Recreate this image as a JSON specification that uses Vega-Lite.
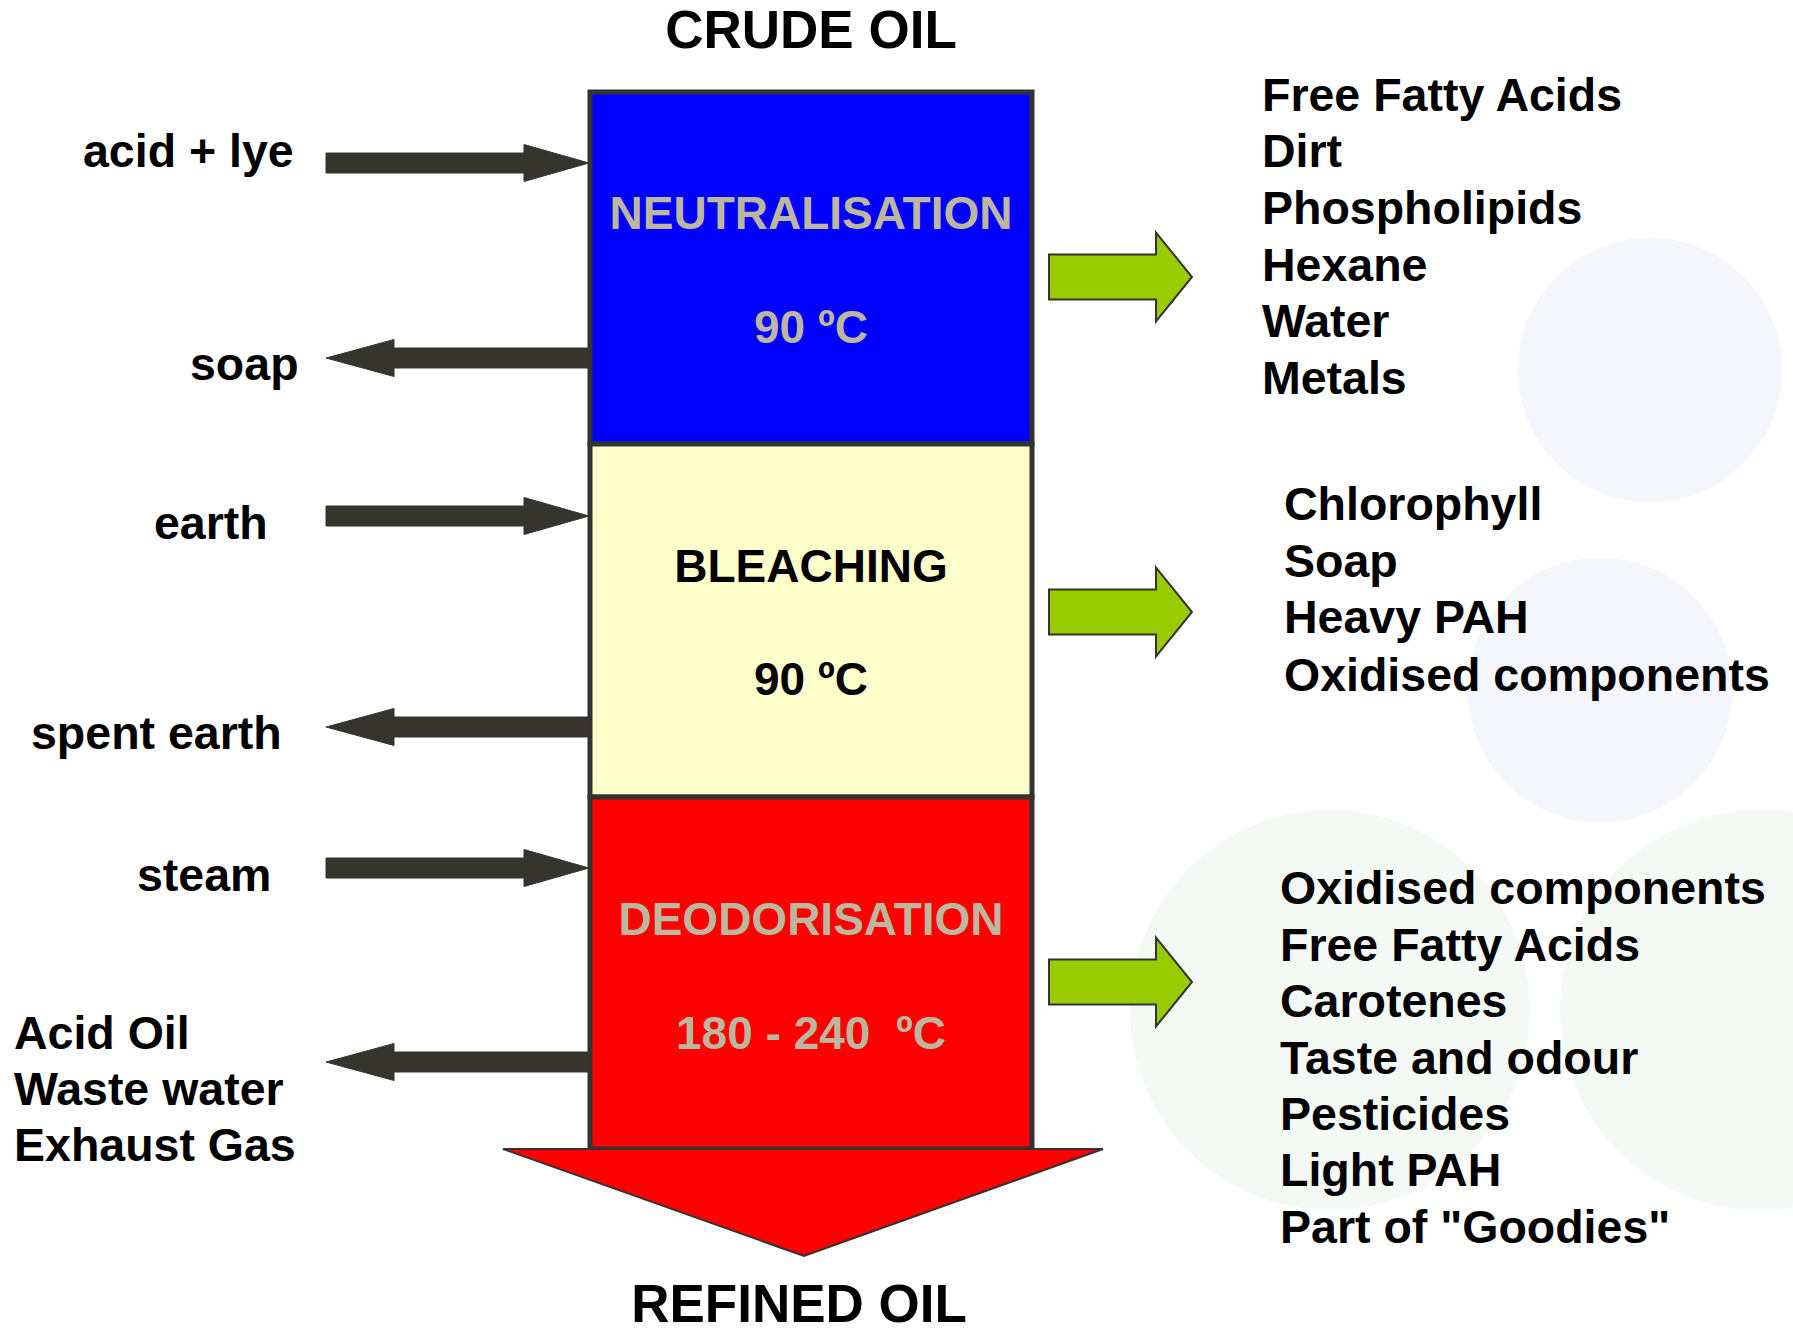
{
  "$schema": "https://vega.github.io/schema/vega-lite/v6.json",
  "width": 1793,
  "height": 1336,
  "autosize": {"type": "none"},
  "padding": 0,
  "background": "#ffffff",
  "config": {"view": {"stroke": null}, "text": {"font": "Liberation Sans", "fontWeight": "bold"}},
  "datasets": {
    "watermarkBlue": [{"x": 1650, "y": 370}, {"x": 1600, "y": 690}],
    "watermarkGreen": [{"x": 1330, "y": 1010}, {"x": 1760, "y": 1010}],
    "boxes": [
      {"stage": "NEUTRALISATION", "x": 590, "x2": 1032, "y": 92, "y2": 444},
      {"stage": "BLEACHING", "x": 590, "x2": 1032, "y": 444, "y2": 797},
      {"stage": "DEODORISATION", "x": 590, "x2": 1032, "y": 797, "y2": 1149}
    ],
    "outlet": [
      {"id": "out", "i": 1, "x": 503, "y": 1149},
      {"id": "out", "i": 2, "x": 1103, "y": 1149},
      {"id": "out", "i": 3, "x": 804, "y": 1256}
    ],
    "darkArrows": [
      {"id": "in1", "i": 1, "x": 326, "y": 153}, {"id": "in1", "i": 2, "x": 524, "y": 153}, {"id": "in1", "i": 3, "x": 524, "y": 144.5}, {"id": "in1", "i": 4, "x": 589, "y": 163}, {"id": "in1", "i": 5, "x": 524, "y": 181.5}, {"id": "in1", "i": 6, "x": 524, "y": 173}, {"id": "in1", "i": 7, "x": 326, "y": 173},
      {"id": "out1", "i": 1, "x": 589, "y": 348}, {"id": "out1", "i": 2, "x": 394, "y": 348}, {"id": "out1", "i": 3, "x": 394, "y": 339.5}, {"id": "out1", "i": 4, "x": 326, "y": 358}, {"id": "out1", "i": 5, "x": 394, "y": 376.5}, {"id": "out1", "i": 6, "x": 394, "y": 368}, {"id": "out1", "i": 7, "x": 589, "y": 368},
      {"id": "in2", "i": 1, "x": 326, "y": 506}, {"id": "in2", "i": 2, "x": 524, "y": 506}, {"id": "in2", "i": 3, "x": 524, "y": 497.5}, {"id": "in2", "i": 4, "x": 589, "y": 516}, {"id": "in2", "i": 5, "x": 524, "y": 534.5}, {"id": "in2", "i": 6, "x": 524, "y": 526}, {"id": "in2", "i": 7, "x": 326, "y": 526},
      {"id": "out2", "i": 1, "x": 589, "y": 717}, {"id": "out2", "i": 2, "x": 394, "y": 717}, {"id": "out2", "i": 3, "x": 394, "y": 708.5}, {"id": "out2", "i": 4, "x": 326, "y": 727}, {"id": "out2", "i": 5, "x": 394, "y": 745.5}, {"id": "out2", "i": 6, "x": 394, "y": 737}, {"id": "out2", "i": 7, "x": 589, "y": 737},
      {"id": "in3", "i": 1, "x": 326, "y": 858}, {"id": "in3", "i": 2, "x": 524, "y": 858}, {"id": "in3", "i": 3, "x": 524, "y": 849.5}, {"id": "in3", "i": 4, "x": 589, "y": 868}, {"id": "in3", "i": 5, "x": 524, "y": 886.5}, {"id": "in3", "i": 6, "x": 524, "y": 878}, {"id": "in3", "i": 7, "x": 326, "y": 878},
      {"id": "out3", "i": 1, "x": 589, "y": 1052}, {"id": "out3", "i": 2, "x": 394, "y": 1052}, {"id": "out3", "i": 3, "x": 394, "y": 1043.5}, {"id": "out3", "i": 4, "x": 326, "y": 1062}, {"id": "out3", "i": 5, "x": 394, "y": 1080.5}, {"id": "out3", "i": 6, "x": 394, "y": 1072}, {"id": "out3", "i": 7, "x": 589, "y": 1072}
    ],
    "greenArrows": [
      {"id": "g1", "i": 1, "x": 1049, "y": 254.5}, {"id": "g1", "i": 2, "x": 1156, "y": 254.5}, {"id": "g1", "i": 3, "x": 1156, "y": 232.5}, {"id": "g1", "i": 4, "x": 1192, "y": 277}, {"id": "g1", "i": 5, "x": 1156, "y": 321.5}, {"id": "g1", "i": 6, "x": 1156, "y": 299.5}, {"id": "g1", "i": 7, "x": 1049, "y": 299.5},
      {"id": "g2", "i": 1, "x": 1049, "y": 589.5}, {"id": "g2", "i": 2, "x": 1156, "y": 589.5}, {"id": "g2", "i": 3, "x": 1156, "y": 567.5}, {"id": "g2", "i": 4, "x": 1192, "y": 612}, {"id": "g2", "i": 5, "x": 1156, "y": 656.5}, {"id": "g2", "i": 6, "x": 1156, "y": 634.5}, {"id": "g2", "i": 7, "x": 1049, "y": 634.5},
      {"id": "g3", "i": 1, "x": 1049, "y": 959.5}, {"id": "g3", "i": 2, "x": 1156, "y": 959.5}, {"id": "g3", "i": 3, "x": 1156, "y": 937.5}, {"id": "g3", "i": 4, "x": 1192, "y": 982}, {"id": "g3", "i": 5, "x": 1156, "y": 1026.5}, {"id": "g3", "i": 6, "x": 1156, "y": 1004.5}, {"id": "g3", "i": 7, "x": 1049, "y": 1004.5}
    ],
    "boxText": [
      {"stage": "NEUTRALISATION", "text": "NEUTRALISATION", "x": 811, "y": 215},
      {"stage": "NEUTRALISATION", "text": "90 ºC", "x": 811, "y": 329},
      {"stage": "BLEACHING", "text": "BLEACHING", "x": 811, "y": 568},
      {"stage": "BLEACHING", "text": "90 ºC", "x": 811, "y": 681},
      {"stage": "DEODORISATION", "text": "DEODORISATION", "x": 811, "y": 921},
      {"stage": "DEODORISATION", "text": "180 - 240 \u00a0ºC", "x": 811, "y": 1035}
    ],
    "titles": [
      {"text": "CRUDE OIL", "x": 811, "y": 32},
      {"text": "REFINED OIL", "x": 799, "y": 1306}
    ],
    "labels": [
      {"side": "in", "text": "acid + lye", "x": 83, "y": 153},
      {"side": "out", "text": "soap", "x": 190, "y": 366},
      {"side": "in", "text": "earth", "x": 154, "y": 525},
      {"side": "out", "text": "spent earth", "x": 31, "y": 735},
      {"side": "in", "text": "steam", "x": 137, "y": 877},
      {"side": "out", "text": "Acid Oil", "x": 14, "y": 1035},
      {"side": "out", "text": "Waste water", "x": 14, "y": 1091},
      {"side": "out", "text": "Exhaust Gas", "x": 14, "y": 1147},
      {"side": "removed", "text": "Free Fatty Acids", "x": 1262, "y": 97},
      {"side": "removed", "text": "Dirt", "x": 1262, "y": 153},
      {"side": "removed", "text": "Phospholipids", "x": 1262, "y": 210},
      {"side": "removed", "text": "Hexane", "x": 1262, "y": 267},
      {"side": "removed", "text": "Water", "x": 1262, "y": 323},
      {"side": "removed", "text": "Metals", "x": 1262, "y": 380},
      {"side": "removed", "text": "Chlorophyll", "x": 1284, "y": 506},
      {"side": "removed", "text": "Soap", "x": 1284, "y": 563},
      {"side": "removed", "text": "Heavy PAH", "x": 1284, "y": 619},
      {"side": "removed", "text": "Oxidised components", "x": 1284, "y": 677},
      {"side": "removed", "text": "Oxidised components", "x": 1280, "y": 890},
      {"side": "removed", "text": "Free Fatty Acids", "x": 1280, "y": 947},
      {"side": "removed", "text": "Carotenes", "x": 1280, "y": 1003},
      {"side": "removed", "text": "Taste and odour", "x": 1280, "y": 1060},
      {"side": "removed", "text": "Pesticides", "x": 1280, "y": 1116},
      {"side": "removed", "text": "Light PAH", "x": 1280, "y": 1172},
      {"side": "removed", "text": "Part of \"Goodies\"", "x": 1280, "y": 1229}
    ]
  },
  "layer": [
    {
      "data": {"name": "watermarkBlue"},
      "mark": {"type": "point", "shape": "circle", "filled": true, "size": 70000, "fill": "#F5F6FB", "opacity": 1, "strokeWidth": 0},
      "encoding": {
        "x": {"field": "x", "type": "quantitative", "scale": {"domain": [0, 1793], "nice": false, "zero": false}, "axis": null},
        "y": {"field": "y", "type": "quantitative", "scale": {"domain": [0, 1336], "reverse": true, "nice": false, "zero": false}, "axis": null}
      }
    },
    {
      "data": {"name": "watermarkGreen"},
      "mark": {"type": "point", "shape": "circle", "filled": true, "size": 160000, "fill": "#F5F9F5", "opacity": 1, "strokeWidth": 0},
      "encoding": {
        "x": {"field": "x", "type": "quantitative", "scale": {"domain": [0, 1793], "nice": false, "zero": false}, "axis": null},
        "y": {"field": "y", "type": "quantitative", "scale": {"domain": [0, 1336], "reverse": true, "nice": false, "zero": false}, "axis": null}
      }
    },
    {
      "data": {"name": "boxes"},
      "mark": {"type": "rect", "stroke": "#333333", "strokeWidth": 5},
      "encoding": {
        "x": {"field": "x", "type": "quantitative", "scale": {"domain": [0, 1793], "nice": false, "zero": false}, "axis": null},
        "x2": {"field": "x2"},
        "y": {"field": "y", "type": "quantitative", "scale": {"domain": [0, 1336], "reverse": true, "nice": false, "zero": false}, "axis": null},
        "y2": {"field": "y2"},
        "fill": {"field": "stage", "type": "nominal", "scale": {"domain": ["NEUTRALISATION", "BLEACHING", "DEODORISATION"], "range": ["#0000FF", "#FFFFCC", "#FF0000"]}, "legend": null}
      }
    },
    {
      "data": {"name": "outlet"},
      "mark": {"type": "line", "interpolate": "linear-closed", "fill": "#FF0000", "stroke": "#333333", "strokeWidth": 2},
      "encoding": {
        "x": {"field": "x", "type": "quantitative", "scale": {"domain": [0, 1793], "nice": false, "zero": false}, "axis": null},
        "y": {"field": "y", "type": "quantitative", "scale": {"domain": [0, 1336], "reverse": true, "nice": false, "zero": false}, "axis": null},
        "detail": {"field": "id"},
        "order": {"field": "i", "type": "quantitative"}
      }
    },
    {
      "data": {"name": "darkArrows"},
      "mark": {"type": "line", "interpolate": "linear-closed", "fill": "#35352D", "stroke": "#35352D", "strokeWidth": 1},
      "encoding": {
        "x": {"field": "x", "type": "quantitative", "scale": {"domain": [0, 1793], "nice": false, "zero": false}, "axis": null},
        "y": {"field": "y", "type": "quantitative", "scale": {"domain": [0, 1336], "reverse": true, "nice": false, "zero": false}, "axis": null},
        "detail": {"field": "id"},
        "order": {"field": "i", "type": "quantitative"}
      }
    },
    {
      "data": {"name": "greenArrows"},
      "mark": {"type": "line", "interpolate": "linear-closed", "fill": "#99CC00", "stroke": "#333333", "strokeWidth": 2},
      "encoding": {
        "x": {"field": "x", "type": "quantitative", "scale": {"domain": [0, 1793], "nice": false, "zero": false}, "axis": null},
        "y": {"field": "y", "type": "quantitative", "scale": {"domain": [0, 1336], "reverse": true, "nice": false, "zero": false}, "axis": null},
        "detail": {"field": "id"},
        "order": {"field": "i", "type": "quantitative"}
      }
    },
    {
      "data": {"name": "boxText"},
      "transform": [{"filter": "datum.stage !== 'BLEACHING'"}],
      "mark": {"type": "text", "align": "center", "baseline": "middle", "fontSize": 46, "color": "#BCB79E"},
      "encoding": {
        "x": {"field": "x", "type": "quantitative", "scale": {"domain": [0, 1793], "nice": false, "zero": false}, "axis": null},
        "y": {"field": "y", "type": "quantitative", "scale": {"domain": [0, 1336], "reverse": true, "nice": false, "zero": false}, "axis": null},
        "text": {"field": "text"}
      }
    },
    {
      "data": {"name": "boxText"},
      "transform": [{"filter": "datum.stage === 'BLEACHING'"}],
      "mark": {"type": "text", "align": "center", "baseline": "middle", "fontSize": 46, "color": "#000000"},
      "encoding": {
        "x": {"field": "x", "type": "quantitative", "scale": {"domain": [0, 1793], "nice": false, "zero": false}, "axis": null},
        "y": {"field": "y", "type": "quantitative", "scale": {"domain": [0, 1336], "reverse": true, "nice": false, "zero": false}, "axis": null},
        "text": {"field": "text"}
      }
    },
    {
      "data": {"name": "titles"},
      "mark": {"type": "text", "align": "center", "baseline": "middle", "fontSize": 53, "color": "#000000"},
      "encoding": {
        "x": {"field": "x", "type": "quantitative", "scale": {"domain": [0, 1793], "nice": false, "zero": false}, "axis": null},
        "y": {"field": "y", "type": "quantitative", "scale": {"domain": [0, 1336], "reverse": true, "nice": false, "zero": false}, "axis": null},
        "text": {"field": "text"}
      }
    },
    {
      "data": {"name": "labels"},
      "mark": {"type": "text", "align": "left", "baseline": "middle", "fontSize": 46.5, "color": "#000000"},
      "encoding": {
        "x": {"field": "x", "type": "quantitative", "scale": {"domain": [0, 1793], "nice": false, "zero": false}, "axis": null},
        "y": {"field": "y", "type": "quantitative", "scale": {"domain": [0, 1336], "reverse": true, "nice": false, "zero": false}, "axis": null},
        "text": {"field": "text"}
      }
    }
  ]
}
